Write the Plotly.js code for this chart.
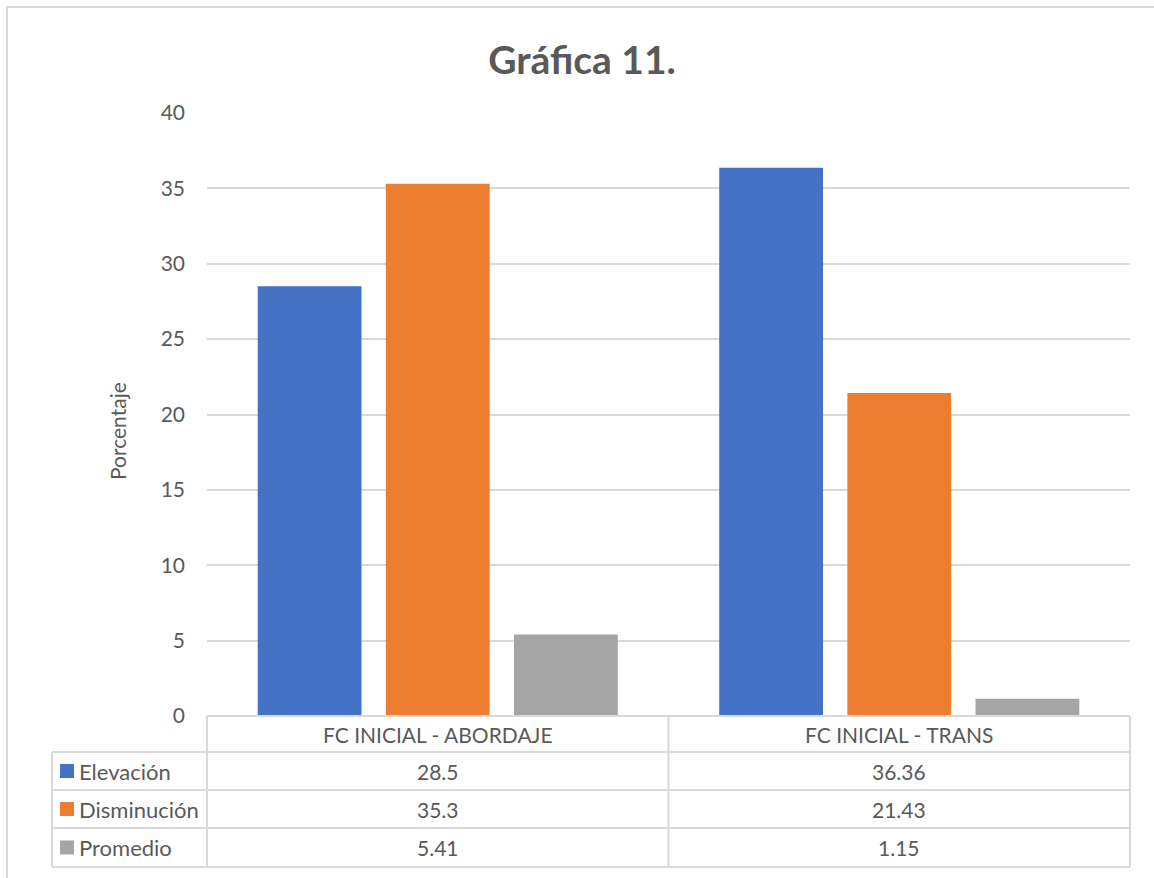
<!DOCTYPE html>
<html>
<head>
<meta charset="utf-8">
<script src="https://cdn.plot.ly/plotly-3.0.1.min.js"></script>
<style>
html,body{margin:0;padding:0;background:#fff;}
#chart{width:1154px;height:878px;}
</style>
</head>
<body>
<div id="chart"></div>
<script>
const categories = ["FC INICIAL - ABORDAJE", "FC INICIAL - TRANS"];
const seriesNames = ["Elevación", "Disminución", "Promedio"];
const elevacion = [28.5, 36.36];
const disminucion = [35.3, 21.43];
const promedio = [5.41, 1.15];
const yTicks = [0, 5, 10, 15, 20, 25, 30, 35, 40];
const colors = ["#4472C4", "#ED7D31", "#A5A5A5"];

const seriesValues = [elevacion, disminucion, promedio];
const FONT = "Lato, 'Open Sans', 'DejaVu Sans', sans-serif";
const TXT = "#595959";
const LINE = "#D9D9D9";

const traces = seriesValues.map((vals, i) => ({
  type: "bar",
  name: seriesNames[i],
  x: categories,
  y: vals,
  marker: {color: colors[i], line: {width: 0}},
  hoverinfo: "x+y+name"
}));

// plot area geometry (px) for table layout
const W = 1154, H = 878;
const mL = 207, mR = 24, mT = 113, mB = 162;
const pw = W - mL - mR, ph = H - mT - mB;
const px = v => (v - mL) / pw;          // pixel x -> paper x
const py = v => (H - mB - v) / ph;      // pixel y -> paper y

const rowsY = [716, 752, 790, 828, 867];
const leftX = 52, rightX = 1130;

const shapes = [];
// outer chart frame
shapes.push({type: "rect", xref: "paper", yref: "paper", x0: px(7), x1: px(1170), y0: py(7), y1: py(895),
  line: {color: LINE, width: 2}, fillcolor: "rgba(0,0,0,0)", layer: "below"});
// horizontal table lines
shapes.push({type: "line", xref: "paper", yref: "paper", x0: px(mL), x1: px(rightX), y0: py(rowsY[0]), y1: py(rowsY[0]), line: {color: LINE, width: 2}});
for (let r = 1; r < rowsY.length; r++) {
  shapes.push({type: "line", xref: "paper", yref: "paper", x0: px(leftX), x1: px(rightX), y0: py(rowsY[r]), y1: py(rowsY[r]), line: {color: LINE, width: 2}});
}
// vertical lines
shapes.push({type: "line", xref: "paper", yref: "paper", x0: px(leftX), x1: px(leftX), y0: py(rowsY[1]), y1: py(rowsY[4]), line: {color: LINE, width: 2}});
shapes.push({type: "line", xref: "paper", yref: "paper", x0: px(mL), x1: px(mL), y0: py(rowsY[0]), y1: py(rowsY[4]), line: {color: LINE, width: 2}});
shapes.push({type: "line", xref: "x", yref: "paper", x0: 0.5, x1: 0.5, y0: py(rowsY[0]), y1: py(rowsY[4]), line: {color: LINE, width: 2}});
shapes.push({type: "line", xref: "paper", yref: "paper", x0: px(rightX), x1: px(rightX), y0: py(rowsY[0]), y1: py(rowsY[4]), line: {color: LINE, width: 2}});

const annotations = [];
// y axis title
annotations.push({xref: "paper", yref: "paper", x: px(117), y: py(431), text: "Porcentaje", textangle: -90, showarrow: false,
  xanchor: "center", yanchor: "middle", font: {family: FONT, size: 21, color: TXT}});
// header row: category names
categories.forEach((c, j) => {
  annotations.push({xref: "x", yref: "paper", x: j, y: py((rowsY[0] + rowsY[1]) / 2), text: c, showarrow: false,
    xanchor: "center", yanchor: "middle", font: {family: FONT, size: 21, color: TXT}});
});
// data rows
seriesNames.forEach((name, i) => {
  const yc = py((rowsY[i + 1] + rowsY[i + 2]) / 2);
  // legend key square
  shapes.push({type: "rect", xref: "paper", yref: "paper", x0: px(60), x1: px(74), y0: yc - 7 / ph, y1: yc + 7 / ph,
    fillcolor: colors[i], line: {width: 0}});
  annotations.push({xref: "paper", yref: "paper", x: px(77), y: yc, text: name, showarrow: false,
    xanchor: "left", yanchor: "middle", font: {family: FONT, size: 22, color: TXT}});
  seriesValues[i].forEach((v, j) => {
    annotations.push({xref: "x", yref: "paper", x: j, y: yc, text: String(v), showarrow: false,
      xanchor: "center", yanchor: "middle", font: {family: FONT, size: 21, color: TXT}});
  });
});

const layout = {
  width: W, height: H,
  margin: {l: mL, r: mR, t: mT, b: mB, pad: 0},
  paper_bgcolor: "#fff", plot_bgcolor: "#fff",
  title: {text: "<b>Gráfica 11.</b>", x: 582 / W, xanchor: "center", xref: "container", y: 1 - 60 / H, yanchor: "middle",
    font: {family: FONT, size: 39, color: TXT}},
  barmode: "group",
  bargap: 0.167,
  bargroupgap: 0.19,
  showlegend: false,
  xaxis: {type: "category", showticklabels: false, showgrid: false, zeroline: false, showline: false, ticks: "",
    range: [-0.5, 1.5], fixedrange: true},
  yaxis: {range: [0, 40], tickvals: yTicks, ticktext: yTicks.map(String), showgrid: true, gridcolor: LINE, gridwidth: 2,
    zeroline: false, showline: false, ticks: "", ticklabelstandoff: 21,
    tickfont: {family: FONT, size: 21, color: TXT}},
  shapes: shapes,
  annotations: annotations
};

Plotly.newPlot("chart", traces, layout, {displayModeBar: false, staticPlot: true});
</script>
</body>
</html>
